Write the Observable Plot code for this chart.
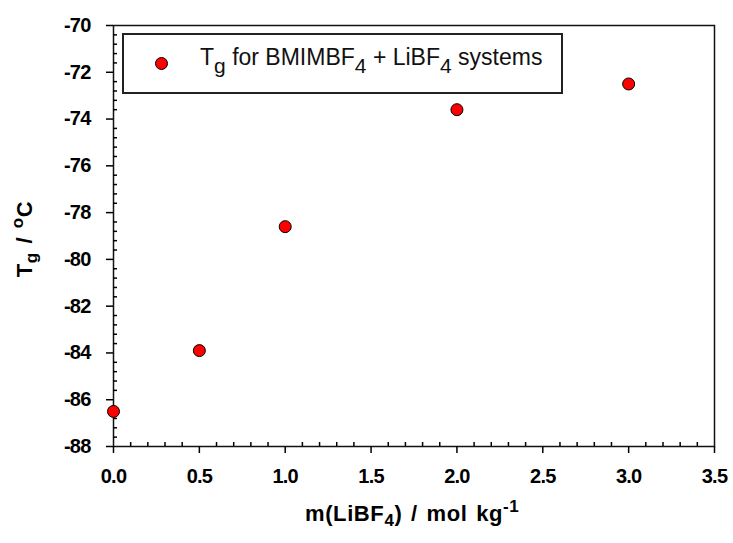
<!DOCTYPE html>
<html>
<head>
<meta charset="utf-8">
<script src="https://cdn.jsdelivr.net/npm/d3@7"></script>
<script src="https://cdn.jsdelivr.net/npm/@observablehq/plot@0.6"></script>
<style>
  html, body { margin: 0; padding: 0; background: #fff; }
  #wrap { position: relative; width: 733px; height: 543px; font-family: "Liberation Sans", Arial, sans-serif; }
  .lbl { position: absolute; font-weight: bold; font-size: 22px; color: #000; white-space: nowrap; letter-spacing: 0.6px; word-spacing: 2px; }
  .lbl sub { font-size: 17px; vertical-align: -5px; }
  .lbl sup { font-size: 17px; vertical-align: 9px; }
  #legend { position: absolute; left: 122px; top: 33px; width: 437px; height: 57px; border: 2px solid #222; box-sizing: content-box;
    font-family: "Liberation Sans", Arial, sans-serif; font-size: 23px; color: #111; }
  #legend .dot { position: absolute; left: 31px; top: 22px; width: 11px; height: 11px; border-radius: 50%; background: #f00; border: 1px solid #000; }
  #legend .txt { position: absolute; left: 76px; top: 9px; white-space: nowrap; }
  #legend sub { font-size: 21px; vertical-align: -8px; }
</style>
</head>
<body>
<div id="wrap"></div>
<script>
// data
const molality = [0.0, 0.5, 1.0, 2.0, 3.0];
const tg = [-86.5, -83.9, -78.6, -73.6, -72.5];
const xTicks = [0, 0.5, 1.0, 1.5, 2.0, 2.5, 3.0, 3.5];
const yTicks = [-88, -86, -84, -82, -80, -78, -76, -74, -72, -70];
const xMinor = d3.range(0, 36).map(i => i / 10).filter(v => Math.abs(v * 2 - Math.round(v * 2)) > 1e-6);
const yMinor = d3.range(0, 46).map(i => -88 + i * 0.4).filter(v => Math.abs(v / 2 - Math.round(v / 2)) > 1e-6);

const rows = molality.map((m, i) => ({m, t: tg[i]}));

const chart = Plot.plot({
  width: 733,
  height: 543,
  marginLeft: 113,
  marginRight: 19,
  marginTop: 25,
  marginBottom: 97,
  style: { fontFamily: '"Liberation Sans", Arial, sans-serif', fontSize: "20px", fontWeight: "bold", color: "#000", background: "#fff", letterSpacing: "-0.8px" },
  x: { domain: [0, 3.5] },
  y: { domain: [-88, -70] },
  marks: [
    Plot.frame({ stroke: "#111", strokeWidth: 1.5 }),
    Plot.axisX({ ticks: xTicks, tickSize: 7, tickPadding: 15, tickFormat: d => d.toFixed(1), label: null, strokeWidth: 1.5 }),
    Plot.axisX({ ticks: xMinor, tickSize: -4, tickFormat: () => "", label: null, strokeWidth: 1.5 }),
    Plot.axisY({ ticks: yTicks, tickSize: 7, tickPadding: 16, tickFormat: d => String(d), label: null, strokeWidth: 1.5 }),
    Plot.axisY({ ticks: yMinor, tickSize: -4, tickFormat: () => "", label: null, strokeWidth: 1.5 }),
    Plot.dot(rows, { x: "m", y: "t", r: 6, fill: "#ff0000", stroke: "#000", strokeWidth: 1 })
  ]
});

const wrap = document.getElementById("wrap");
wrap.appendChild(chart);
chart.style.position = "absolute";
chart.style.left = "0";
chart.style.top = "0";

const legend = document.createElement("div");
legend.id = "legend";
legend.innerHTML = '<div class="dot"></div><div class="txt">T<sub>g</sub> for BMIMBF<sub>4</sub> + LiBF<sub>4</sub> systems</div>';
wrap.appendChild(legend);

const xl = document.createElement("div");
xl.className = "lbl";
xl.innerHTML = 'm(LiBF<sub>4</sub>) / mol kg<sup>-1</sup>';
xl.style.left = "305px";
xl.style.top = "497px";
wrap.appendChild(xl);

const yl = document.createElement("div");
yl.className = "lbl";
yl.innerHTML = 'T<sub>g</sub> / <sup>o</sup>C';
yl.style.left = "-25px";
yl.style.top = "222px";
yl.style.width = "100px";
yl.style.textAlign = "center";
yl.style.transform = "rotate(-90deg)";
wrap.appendChild(yl);
</script>
</body>
</html>
